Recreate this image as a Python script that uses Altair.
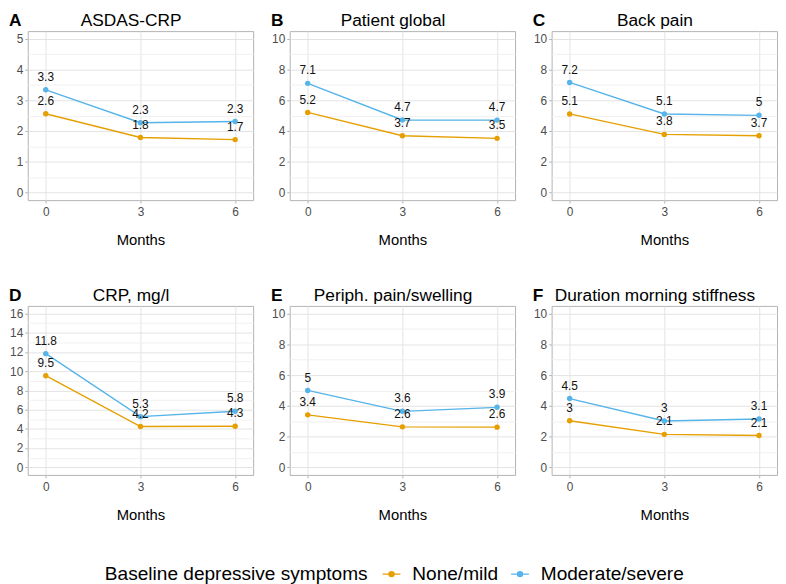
import altair as alt
import pandas as pd

months = [0, 3, 6]
groups = ["None/mild", "Moderate/severe"]
colors = ["#E69F00", "#56B4E9"]

tags = ["A", "B", "C", "D", "E", "F"]
titles = ["ASDAS-CRP", "Patient global", "Back pain",
          "CRP, mg/l", "Periph. pain/swelling", "Duration morning stiffness"]

# values per panel, months 0, 3, 6
asdas_none = [2.56, 1.79, 1.72]
asdas_mod = [3.34, 2.27, 2.31]
global_none = [5.21, 3.69, 3.52]
global_mod = [7.10, 4.72, 4.71]
back_none = [5.11, 3.78, 3.69]
back_mod = [7.16, 5.11, 5.02]
crp_none = [9.53, 4.24, 4.27]
crp_mod = [11.83, 5.27, 5.83]
periph_none = [3.41, 2.63, 2.61]
periph_mod = [5.00, 3.64, 3.90]
stiff_none = [3.03, 2.14, 2.07]
stiff_mod = [4.47, 3.01, 3.14]

none_series = [asdas_none, global_none, back_none, crp_none, periph_none, stiff_none]
mod_series = [asdas_mod, global_mod, back_mod, crp_mod, periph_mod, stiff_mod]

y_max = [5, 10, 10, 16, 10, 10]
y_major = [1, 2, 2, 2, 2, 2]
y_minor = [0.5, 1, 1, 1, 1, 1]

FONT = "Liberation Sans"
W, H = 228, 171
EXT = 19
SYMBOL = "M-1,0L1,0M0.28,0A0.28,0.28,0,1,1,-0.28,0A0.28,0.28,0,1,1,0.28,0Z"

legend = alt.Legend(
    title="Baseline depressive symptoms", orient="none", legendX=78, legendY=539,
    direction="horizontal", titleOrient="left", titleFontSize=19.3, titleLimit=500,
    titleFontWeight="normal", titleFont=FONT, titleColor="black", titlePadding=14,
    labelFontSize=19.3, labelFont=FONT, labelColor="black", labelOffset=11,
    labelLimit=300, symbolType=SYMBOL, symbolSize=324, symbolStrokeWidth=1.5,
    columnPadding=10,
)


def panel(i):
    rows = []
    for g, vals in ((groups[0], none_series[i]), (groups[1], mod_series[i])):
        for m, v in zip(months, vals):
            rows.append({"month": m, "value": v, "group": g,
                         "label": f"{round(v, 1):g}"})
    df = pd.DataFrame(rows)
    ymax = y_max[i]
    pad = ymax * 0.05
    n = int(round(ymax / y_minor[i]))
    yvals = [k * y_minor[i] for k in range(n + 1)]
    test = f"datum.value % {y_major[i]} == 0"
    x = alt.X("month:Q",
              scale=alt.Scale(domain=[-0.57, 6.57], nice=False, zero=False),
              axis=alt.Axis(values=months, title="Months", titlePadding=15,
                            labelPadding=4, gridColor="#e3e3e3"))
    y = alt.Y("value:Q",
              scale=alt.Scale(domain=[-pad, ymax + pad], nice=False, zero=False),
              axis=alt.Axis(values=yvals, title=None,
                            labelExpr=f"{test} ? format(datum.value, 'd') : ''",
                            gridColor=alt.condition(test, alt.value("#e3e3e3"), alt.value("#f0f0f0")),
                            tickOpacity=alt.condition(test, alt.value(1), alt.value(0)),
                            minExtent=EXT, maxExtent=EXT))
    color = alt.Color("group:N", scale=alt.Scale(domain=groups, range=colors),
                      legend=legend)
    base = alt.Chart(df).encode(x=x, y=y, color=color)
    line = base.mark_line(strokeWidth=1.4)
    pts = base.mark_point(filled=True, size=30, opacity=1)
    txt = alt.Chart(df).mark_text(baseline="alphabetic", dy=-9, font=FONT,
                                  fontSize=12, color="#111111").encode(
        x=x, y=y, text="label:N")
    hdr = pd.DataFrame({"tag": [tags[i]], "title": [titles[i]]})
    tag = alt.Chart(hdr).mark_text(align="left", baseline="alphabetic", font=FONT,
                                   fontSize=17.5, fontWeight="bold", color="black").encode(
        x=alt.value(-EXT), y=alt.value(-5), text="tag:N")
    ttl = alt.Chart(hdr).mark_text(align="center", baseline="alphabetic", font=FONT,
                                   fontSize=17.5, color="black").encode(
        x=alt.value((W - EXT) / 2), y=alt.value(-5), text="title:N")
    return alt.layer(line, pts, txt, tag, ttl).properties(width=W, height=H)


chart = alt.concat(*[panel(i) for i in range(6)], columns=3,
                   spacing={"row": 38, "column": 16}).resolve_scale(
    x="independent", y="independent", color="shared"
).properties(padding=0).configure_view(
    stroke="#b3b3b3", strokeWidth=1
).configure_axis(
    labelFont=FONT, labelFontSize=12, labelColor="#4d4d4d", labelPadding=2,
    tickColor="#b3b3b3", tickSize=3, domain=False,
    titleFont=FONT, titleFontSize=15, titleFontWeight="normal", titleColor="black",
    gridWidth=1,
)

chart.save("out.html", embed_options={"renderer": "svg", "actions": False})
